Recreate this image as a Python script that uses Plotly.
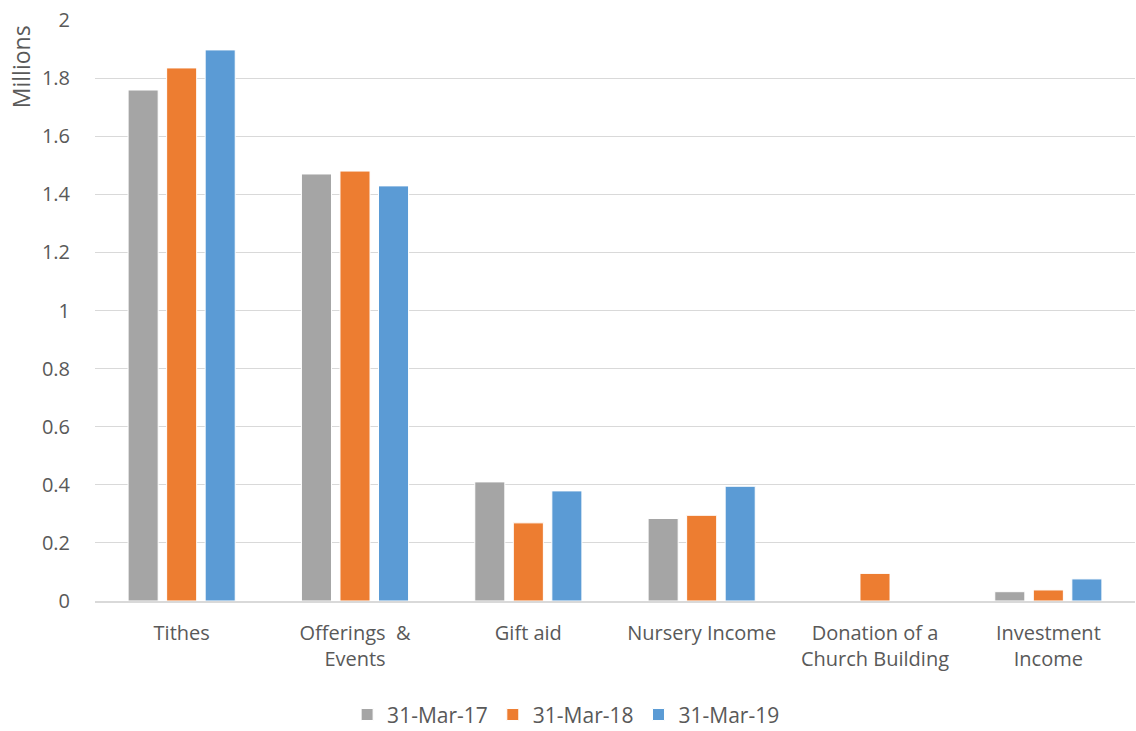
import plotly.graph_objects as go

categories = ["Tithes", "Offerings  &<br>Events", "Gift aid", "Nursery Income",
              "Donation of a<br>Church Building", "Investment<br>Income"]
series_names = ["31-Mar-17", "31-Mar-18", "31-Mar-19"]
values_2017 = [1.759, 1.470, 0.410, 0.284, 0.0, 0.032]
values_2018 = [1.835, 1.480, 0.269, 0.295, 0.095, 0.038]
values_2019 = [1.897, 1.429, 0.379, 0.395, 0.0, 0.076]
colors = ["#A5A5A5", "#ED7D31", "#5B9BD5"]

FONT = "Open Sans"
TXT = "#595959"
FS = 20

fig = go.Figure()
for name, vals, col in zip(series_names, [values_2017, values_2018, values_2019], colors):
    fig.add_trace(go.Bar(x=categories, y=vals, name=name, marker_color=col,
                         marker_line_color="white", marker_line_width=1))

fig.update_layout(
    width=1136, height=731,
    paper_bgcolor="white", plot_bgcolor="white",
    margin=dict(l=95, r=1, t=20, b=130, autoexpand=False),
    barmode="group", bargap=0.333, bargroupgap=0.22,
    font=dict(family=FONT, size=FS, color=TXT),
    showlegend=True,
    legend=dict(orientation="h", x=0.453, xanchor="center", y=-0.196, yanchor="middle",
                font=dict(size=21, color=TXT), traceorder="normal", itemwidth=30),
    xaxis=dict(showgrid=False, showline=True, linecolor="#D9D9D9", linewidth=1.5,
               ticks="outside", ticklen=13, tickcolor="rgba(0,0,0,0)", automargin=False,
               tickfont=dict(size=FS, color=TXT)),
    yaxis=dict(range=[0, 2], dtick=0.2, showgrid=True, gridcolor="#D9D9D9", gridwidth=1,
               zeroline=False, ticks="outside", ticklen=20, tickcolor="rgba(0,0,0,0)",
               automargin=False,
               tickfont=dict(size=FS, color=TXT), tickformat="~g"),
    annotations=[dict(text="Millions", xref="paper", yref="paper", x=-0.071, y=0.919,
                      xanchor="center", yanchor="middle", textangle=-90, showarrow=False,
                      font=dict(size=23, color=TXT))],
)
fig.write_html("out.html", post_script="document.body.style.margin='0';",
               config={"displayModeBar": False})
